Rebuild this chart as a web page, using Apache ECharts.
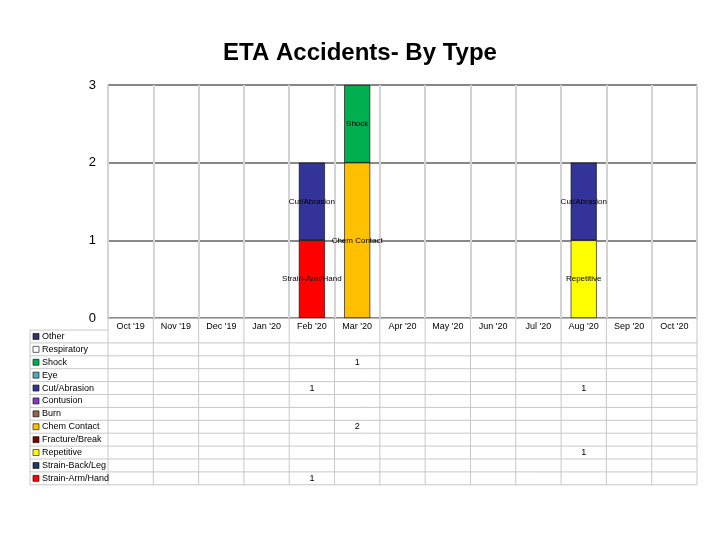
<!DOCTYPE html>
<html>
<head>
<meta charset="utf-8">
<script src="https://cdn.jsdelivr.net/npm/echarts@6/dist/echarts.min.js"></script>
<style>
  html, body { margin: 0; padding: 0; background: #fff; }
  #main { width: 720px; height: 540px; }
</style>
</head>
<body>
<div id="main"></div>
<script>
// months on the x axis
const months = ["Oct '19", "Nov '19", "Dec '19", "Jan '20", "Feb '20", "Mar '20", "Apr '20",
  "May '20", "Jun '20", "Jul '20", "Aug '20", "Sep '20", "Oct '20"];

// accident types (table order, top to bottom)
const types = ['Other', 'Respiratory', 'Shock', 'Eye', 'Cut/Abrasion', 'Contusion', 'Burn',
  'Chem Contact', 'Fracture/Break', 'Repetitive', 'Strain-Back/Leg', 'Strain-Arm/Hand'];
const typeColors = ['#333366', '#ffffff', '#00b050', '#4bacc6', '#333399', '#7f3fbf', '#8b6b4b',
  '#ffc000', '#800000', '#ffff00', '#1f3864', '#ff0000'];

// counts per type per month (null = none)
const other        = [null, null, null, null, null, null, null, null, null, null, null, null, null];
const respiratory  = [null, null, null, null, null, null, null, null, null, null, null, null, null];
const shock        = [null, null, null, null, null, 1, null, null, null, null, null, null, null];
const eye          = [null, null, null, null, null, null, null, null, null, null, null, null, null];
const cutAbrasion  = [null, null, null, null, 1, null, null, null, null, null, 1, null, null];
const contusion    = [null, null, null, null, null, null, null, null, null, null, null, null, null];
const burn         = [null, null, null, null, null, null, null, null, null, null, null, null, null];
const chemContact  = [null, null, null, null, null, 2, null, null, null, null, null, null, null];
const fracture     = [null, null, null, null, null, null, null, null, null, null, null, null, null];
const repetitive   = [null, null, null, null, null, null, null, null, null, null, 1, null, null];
const strainBack   = [null, null, null, null, null, null, null, null, null, null, null, null, null];
const strainArm    = [null, null, null, null, 1, null, null, null, null, null, null, null, null];

const rows = [other, respiratory, shock, eye, cutAbrasion, contusion, burn,
  chemContact, fracture, repetitive, strainBack, strainArm];

// stacking order: bottom first
const stackOrder = [11, 10, 9, 8, 7, 6, 5, 4, 3, 2, 1, 0];

const chart = echarts.init(document.getElementById('main'));
const FONT = 'Arial, "Liberation Sans", sans-serif';

const option = {
  animation: false,
  backgroundColor: '#fff',
  title: {
    text: 'ETA Accidents- By Type',
    left: 'center', top: 36,
    textStyle: { fontFamily: FONT, fontSize: 24, fontWeight: 'bold', color: '#000' }
  },
  grid: { left: 108, right: 23, top: 85, bottom: 222 },
  xAxis: {
    type: 'category', data: months,
    axisLine: { lineStyle: { color: '#bbb' } },
    axisTick: { show: false },
    axisLabel: { fontFamily: FONT, fontSize: 9, color: '#000', margin: 4 },
    splitLine: { show: true, interval: 0, lineStyle: { color: '#d4d4d4', width: 2 } }
  },
  yAxis: {
    type: 'value', min: 0, max: 3, interval: 1,
    axisLine: { show: false }, axisTick: { show: false },
    axisLabel: { fontFamily: FONT, fontSize: 13, color: '#000', margin: 12 },
    splitLine: { lineStyle: { color: '#888', width: 2 } }
  },
  series: stackOrder.map(i => ({
    name: types[i], type: 'bar', stack: 'all', barWidth: 26,
    data: rows[i],
    itemStyle: { color: typeColors[i], borderColor: '#000', borderWidth: 0.6 },
    label: {
      show: true, position: 'inside', formatter: types[i],
      fontFamily: FONT, fontSize: 8, color: '#000'
    }
  }))
};
chart.setOption(option);

// data table under the chart
function drawTable() {
  const top = 330, rowH = 12.9, left = 30, plotLeft = 108, right = 697;
  const g = [];
  const bottom = top + rowH * types.length;
  // horizontal lines
  for (let r = 0; r <= types.length; r++) {
    g.push({ type: 'line', shape: { x1: left, y1: top + r * rowH, x2: r === 0 ? plotLeft : right, y2: top + r * rowH },
      style: { stroke: '#c8c8c8', lineWidth: 1 } });
  }
  // vertical lines
  g.push({ type: 'line', shape: { x1: left, y1: top, x2: left, y2: bottom }, style: { stroke: '#c8c8c8' } });
  const cw = (right - plotLeft) / months.length;
  for (let c = 0; c <= months.length; c++) {
    const x = plotLeft + c * cw;
    g.push({ type: 'line', shape: { x1: x, y1: 318, x2: x, y2: bottom }, style: { stroke: '#c8c8c8' } });
  }
  types.forEach((t, r) => {
    const y = top + r * rowH + rowH / 2;
    g.push({ type: 'rect', shape: { x: left + 3, y: y - 3, width: 6, height: 6 },
      style: { fill: typeColors[r], stroke: '#000', lineWidth: 0.6 } });
    g.push({ type: 'text', x: left + 12, y: y,
      style: { text: t, fontFamily: FONT, fontSize: 9, fill: '#000', verticalAlign: 'middle' } });
    rows[r].forEach((v, c) => {
      if (v == null) return;
      const px = chart.convertToPixel({ xAxisIndex: 0 }, months[c]);
      g.push({ type: 'text', x: px, y: y,
        style: { text: String(v), fontFamily: FONT, fontSize: 9, fill: '#000', align: 'center', verticalAlign: 'middle' } });
    });
  });
  chart.setOption({ graphic: g });
}
drawTable();
</script>
</body>
</html>
